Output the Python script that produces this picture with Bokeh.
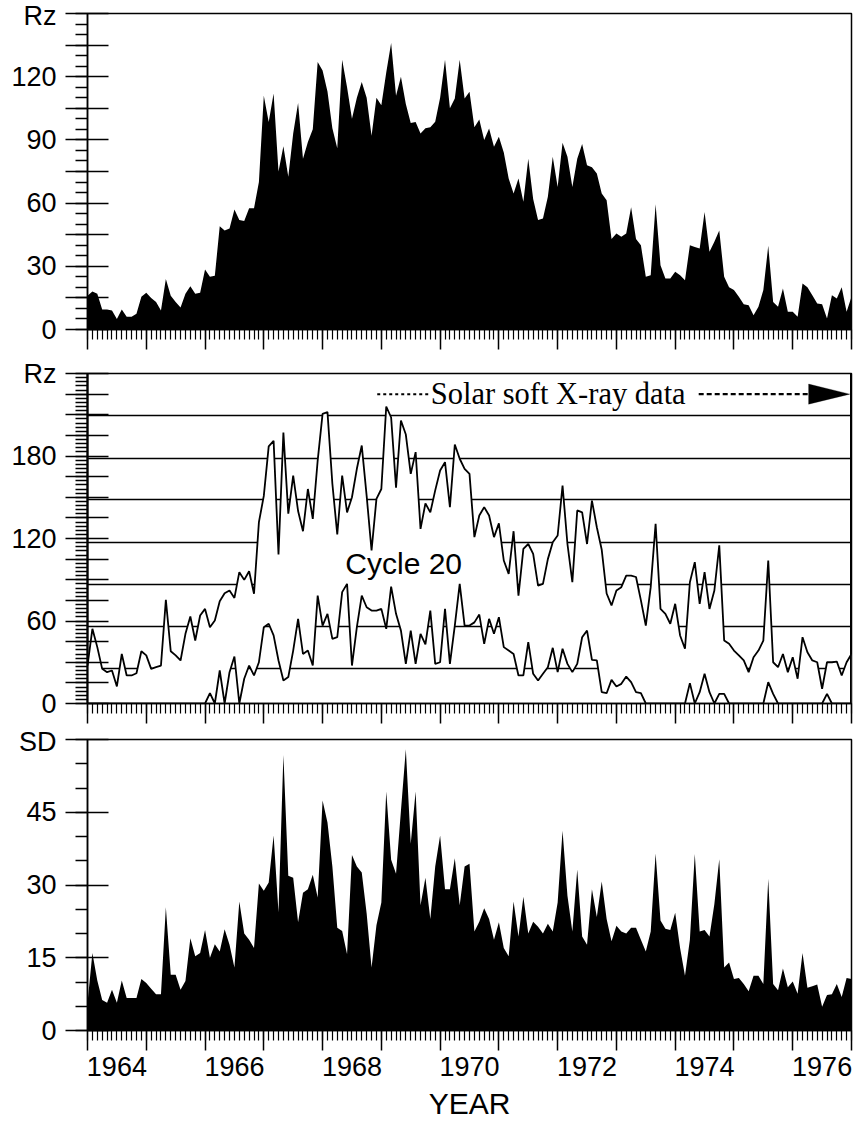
from bokeh.plotting import figure
from bokeh.layouts import column
from bokeh.models import (Range1d, FixedTicker, LinearAxis, Label, PolyAnnotation,
                          Span, Arrow)
from bokeh.embed import file_html
from bokeh.resources import INLINE

# ---------------- data (monthly values, Jan 1964 onwards) ----------------
START_YEAR = 1964
END_YEAR = 1977

rz_monthly = [16, 18, 17, 9.5, 9.5, 9, 5, 9.5, 6, 6,
              7.5, 15.5, 17.5, 15, 13, 9, 24, 16, 13, 10.5,
              17, 20.5, 17, 17.5, 28.5, 25, 25.5, 49, 47, 48,
              57, 52, 51.5, 57.5, 57.5, 70, 111, 98.5, 112, 75,
              87, 72.5, 93, 107.5, 81, 89, 95, 127, 123, 113,
              95.5, 86, 128, 115, 100, 110, 117.5, 110, 92, 110,
              106.5, 122, 136, 111, 120, 107, 98, 98.5, 93, 95.5,
              96, 98.6, 110, 128, 105, 109.6, 128, 109.6, 112.8, 96,
              99.7, 90, 95.4, 86.7, 91.5, 84, 71.7, 64.6, 71.7, 60.6,
              81, 62, 52, 52.7, 63, 82, 67.7, 88.6, 82, 67.7,
              81, 88, 78, 77, 74, 64.6, 61.4, 43, 45.6, 44,
              45.6, 58, 43, 40, 25, 25.8, 59.5, 30.5, 24.2, 24.2,
              27.4, 25.8, 23.4, 40, 39.2, 38.4, 55.8, 36.9, 41.6, 47,
              25, 20, 18.7, 15.5, 12, 11.5, 6.8, 10.8, 18.7, 39.7,
              13, 10.8, 19.5, 8.4, 8.4, 6, 21.8, 20, 16.3, 12.3,
              12, 5.2, 16.3, 14.7, 20, 8.4, 15.5]

rz_upper = [27.6, 54.3, 41, 25.2, 22.8, 24, 12.4, 36, 20.4, 20.4,
            22, 38, 35, 25.2, 26.4, 27.6, 75.4, 38, 35, 31.3,
            50.7, 63.3, 45.8, 64, 68.8, 55.5, 60.4, 74.4, 80.2, 82.2,
            76.8, 95.5, 89.9, 96.2, 79.8, 131.9, 151, 187, 191, 108.4,
            197, 138, 165.8, 140, 125.3, 156, 134.3, 176.7, 210.7, 211.9,
            159.8, 122.9, 165.8, 139, 150, 170.7, 187.6, 151, 111.3, 148.8,
            156, 216, 208, 157, 205.8, 195.6, 167, 182.8, 127, 145.5,
            139, 155, 169.5, 175.5, 142.8, 188.4, 178, 170.7, 167, 121,
            136.7, 142.8, 136.7, 121, 131, 104, 94.3, 125.3, 78.5, 112.5,
            116, 108.8, 85.8, 87, 105, 117.3, 122.2, 158.5, 116, 88.2,
            140.4, 139, 116, 147.6, 128.2, 111.8, 80, 71.3, 82.2, 84.6,
            93, 93, 92, 75, 56.7, 84.6, 130.7, 68.8, 65.2, 58,
            72.5, 49.5, 39.8, 88.2, 102.8, 72.5, 95.5, 68.8, 82.2, 115,
            45.8, 43.4, 38.5, 35, 31.3, 22.8, 33.7, 38.5, 45.8, 104,
            30, 26.4, 36, 22.8, 33.7, 18, 48.2, 37.3, 31.3, 30,
            10.7, 30, 30, 30.5, 20.4, 30, 36]

rz_lower = [0, 0, 0, 0, 0, 0, 0, 0, 0, 0,
            0, 0, 0, 0, 0, 0, 0, 0, 0, 0,
            0, 0, 0, 0, 0, 7.5, 0, 24, 0, 22.8,
            34.2, 0, 18, 27.6, 20.4, 30, 55.5, 58, 49.5, 31.3,
            16.7, 19.2, 38.5, 61.6, 36, 38.5, 27.6, 78.5, 56.7, 65.2,
            47, 48.2, 81, 87, 27.6, 55.5, 78.5, 70, 67.6, 67.6,
            68.8, 54.3, 85, 65.2, 53, 28.8, 53, 28.8, 50.7, 43,
            67.6, 28.8, 30, 68.8, 28.8, 56.7, 87, 56.7, 56.7, 59,
            64.7, 43.4, 61.6, 50.7, 62.8, 41, 38.5, 36, 20.4, 20.4,
            44.6, 21.6, 16.7, 21.6, 26.4, 40.5, 22.8, 39.8, 28.8, 22.8,
            28.8, 48.2, 53, 31.8, 31.3, 8.2, 7.5, 17.2, 12.4, 14.3,
            19.6, 15.5, 8.2, 7.5, 0, 0, 0, 0, 0, 0,
            0, 0, 0, 14.8, 0, 8.2, 21.6, 8.2, 0, 7,
            7, 0, 0, 0, 0, 0, 0, 0, 0, 15.5,
            7, 0, 0, 0, 0, 0, 0, 0, 0, 0,
            0, 7, 0, 0, 0, 0, 0]

sd_monthly = [5.6, 16, 10.3, 6.3, 5.7, 8.4, 5.7, 10.3, 6.7, 6.7,
              6.7, 10.6, 9.8, 8.6, 7.5, 7.5, 25.4, 11.5, 11.5, 8.4,
              10.2, 19, 15.3, 16, 20.7, 15, 17.8, 16.3, 20.9, 17.7,
              13, 26.6, 20, 18.7, 17, 30.3, 28.8, 30.5, 40.2, 24.4,
              56.8, 31.9, 31.5, 22.3, 28.4, 29.1, 32.1, 27.4, 47.4, 42.9,
              33.8, 21.2, 20.5, 15.7, 36.2, 33.8, 32.6, 24.1, 13, 21.7,
              26.4, 49.3, 35.2, 32.3, 45.3, 58, 38.5, 49.3, 25.8, 31.5,
              23, 33.8, 40.2, 29.1, 29.1, 35.5, 25.8, 33.8, 34.4, 20.4,
              22.4, 25.2, 23, 18.7, 22.3, 17, 15.3, 26.6, 19.4, 27.6,
              20, 22.4, 21.4, 20, 22, 20.4, 26.4, 41.2, 27.8, 20.4,
              33.2, 19.4, 17.7, 29.1, 23.4, 30.7, 23, 18.4, 21.6, 20.4,
              20, 21.2, 21.2, 18.7, 16.3, 20.4, 36.5, 22.7, 21, 20.7,
              24.3, 17, 11.3, 18.7, 36.4, 20.4, 20.7, 19.4, 26.1, 35.3,
              13, 14, 10.6, 10.8, 9.6, 8.1, 11.3, 11.3, 9.6, 31.3,
              9.6, 8.3, 12.8, 8.9, 10.1, 7.6, 16, 8.8, 9.1, 9.5,
              4.9, 7.3, 7.5, 9.6, 6.9, 10.8, 10.6]

grid_levels = [25.7, 56.1, 86.8, 117.4, 148.2, 178.3, 209.7]
year_labels = ["1964", "1966", "1968", "1970", "1972", "1974", "1976"]

months = [START_YEAR + i / 12 for i in range(len(rz_monthly))]

FONT = "Liberation Sans"
SERIF = "Liberation Serif"
TICK_FONT = "27px"


def make_panel(height, y_max, major_step, minor_step, label_step, top_label,
               border_top, border_bottom, axis_width=1.5):
    p = figure(width=855, height=height,
               x_range=Range1d(START_YEAR, END_YEAR), y_range=Range1d(0, y_max),
               output_backend="svg", toolbar_location=None,
               x_axis_type=None, y_axis_type=None,
               min_border_left=87, min_border_right=4,
               min_border_top=border_top, min_border_bottom=border_bottom)
    p.outline_line_color = "black"
    p.outline_line_width = 1.5
    p.outline_line_alpha = 1.0
    p.background_fill_color = "white"
    p.border_fill_color = "white"

    yt = list(range(0, y_max + 1, major_step))
    ym = list(range(0, y_max + 1, minor_step))
    overrides = {}
    for t in yt:
        overrides[t] = str(t) if t % label_step == 0 else ""
    overrides[y_max] = top_label
    ya = LinearAxis(ticker=FixedTicker(ticks=yt, minor_ticks=ym),
                    major_label_overrides=overrides)
    ya.axis_line_width = axis_width
    ya.major_tick_in = 21
    ya.major_tick_out = 22
    ya.minor_tick_in = 0
    ya.minor_tick_out = 12
    ya.major_tick_line_width = 1.5
    ya.minor_tick_line_width = 1.3
    ya.major_label_standoff = 9
    ya.major_label_text_font = FONT
    ya.major_label_text_font_size = TICK_FONT
    ya.major_label_text_color = "black"
    p.add_layout(ya, "left")

    years = list(range(START_YEAR, END_YEAR + 1))
    month_ticks = [START_YEAR + i / 12 for i in range((END_YEAR - START_YEAR) * 12 + 1)]
    xa = LinearAxis(ticker=FixedTicker(ticks=years, minor_ticks=month_ticks),
                    major_label_overrides={y: "" for y in years})
    xa.axis_line_width = 1.5
    xa.major_tick_in = 0
    xa.major_tick_out = 20
    xa.minor_tick_in = 0
    xa.minor_tick_out = 10
    xa.major_tick_line_width = 1.5
    xa.minor_tick_line_width = 1.2
    xa.major_label_standoff = 0
    xa.major_label_text_font_size = "10px"
    p.add_layout(xa, "below")
    return p


# ---------------- panel 1: Rz (filled) ----------------
p1 = make_panel(352, 150, 15, 5, 30, "Rz", 13, 23)
p1.varea(x=months, y1=0, y2=rz_monthly, fill_color="black")

# ---------------- panel 2: Rz curves ----------------
p2 = make_panel(374, 240, 15, 3, 60, "Rz", 21, 23, axis_width=2.2)
p2.hspan(y=grid_levels, line_color="black", line_width=1.6)
p2.varea(x=months, y1=rz_lower, y2=rz_upper, fill_color="white")
p2.line(x=months, y=rz_upper, line_color="black", line_width=1.8)
p2.line(x=months, y=rz_lower, line_color="black", line_width=1.8)
p2.add_layout(Span(location=END_YEAR, dimension="height", line_color="black",
                   line_width=3))

XRAY_Y = 225.0
p2.add_layout(Arrow(end=None, x_start=1968.93, y_start=XRAY_Y, x_end=1969.80,
                    y_end=XRAY_Y, line_width=2, line_dash="3 3",
                    line_color="black"))
p2.add_layout(Label(x=1969.84, y=XRAY_Y, text="Solar soft X-ray data",
                    text_font=SERIF, text_font_size="30.5px", text_color="black",
                    text_baseline="middle", text_align="left"))
p2.add_layout(Arrow(end=None, x_start=1974.40, y_start=XRAY_Y, x_end=1976.27,
                    y_end=XRAY_Y, line_width=2.2, line_dash="5 3",
                    line_color="black"))
p2.add_layout(PolyAnnotation(xs=[1976.27, 1976.97, 1976.27],
                             ys=[XRAY_Y + 7.3, XRAY_Y, XRAY_Y - 7.3],
                             fill_color="black", fill_alpha=1.0,
                             line_color="black"))
p2.add_layout(Label(x=1969.38, y=101.8, text="Cycle 20", text_font=FONT,
                    text_font_size="30px", text_color="black",
                    text_baseline="middle", text_align="center"))

# ---------------- panel 3: SD (filled) ----------------
p3 = make_panel(396, 60, 15, 5, 15, "SD", 13, 88)
p3.varea(x=months, y1=0, y2=sd_monthly, fill_color="black")

label_pos = [int(s) + 0.5 for s in year_labels]
la = LinearAxis(ticker=FixedTicker(ticks=label_pos, minor_ticks=[]),
                major_label_overrides={pos: s for pos, s in zip(label_pos, year_labels)},
                axis_label="YEAR")
la.axis_line_color = None
la.major_tick_in = 0
la.major_tick_out = 0
la.major_label_standoff = 6
la.major_label_text_font = FONT
la.major_label_text_font_size = TICK_FONT
la.major_label_text_color = "black"
la.axis_label_text_font = FONT
la.axis_label_text_font_size = "30px"
la.axis_label_text_font_style = "normal"
la.axis_label_text_color = "black"
la.axis_label_standoff = 8
p3.add_layout(la, "below")

layout = column(p1, p2, p3, spacing=0)
open("out.html", "w").write(file_html(layout, INLINE))
